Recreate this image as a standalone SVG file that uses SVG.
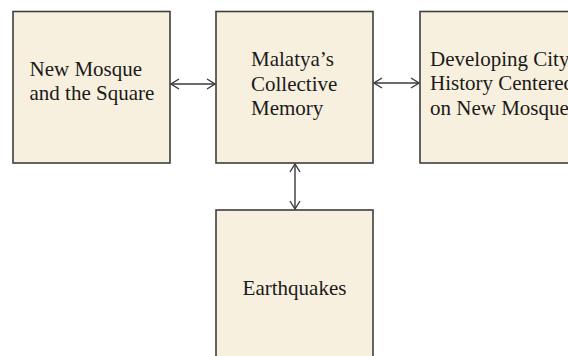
<svg xmlns="http://www.w3.org/2000/svg" width="568" height="356" viewBox="0 0 568 356">
<style>
.box{fill:#F8F0DE;stroke:#3f3f3f;stroke-width:1.6}
.t{font-family:"Liberation Serif","Times New Roman",serif;font-size:21px;fill:#1a1a1a}
.c{stroke:#3a3a3a;stroke-width:1.4;fill:none;marker-start:url(#ah);marker-end:url(#ah)}
</style>
<defs>
<marker id="ah" viewBox="0 0 10 12" refX="9" refY="6" markerWidth="10" markerHeight="12" markerUnits="userSpaceOnUse" orient="auto-start-reverse">
<path d="M1,1 L9,6 L1,11" fill="none" stroke="#3a3a3a" stroke-width="1.4"/>
</marker>
</defs>
<rect width="568" height="356" fill="#ffffff"/>
<g id="connectors">
<line class="c" x1="171" y1="84" x2="215" y2="84"/>
<line class="c" x1="374" y1="83" x2="419" y2="83"/>
<line class="c" x1="295" y1="164" x2="295" y2="209"/>
</g>
<g id="node-mosque">
<rect class="box" x="13" y="11.5" width="157" height="151.5"/>
<text class="t" x="29.5" y="76">New Mosque</text>
<text class="t" x="29.5" y="100">and the Square</text>
</g>
<g id="node-memory">
<rect class="box" x="216" y="11.5" width="157" height="151.5"/>
<text class="t" x="251" y="66">Malatya’s</text>
<text class="t" x="251" y="90.5">Collective</text>
<text class="t" x="251" y="115">Memory</text>
</g>
<g id="node-history">
<rect class="box" x="420" y="11.5" width="157" height="151.5"/>
<text class="t" x="430" y="65.5">Developing City</text>
<text class="t" x="430" y="90">History Centered</text>
<text class="t" x="430" y="114.5">on New Mosque</text>
</g>
<g id="node-earthquakes">
<rect class="box" x="216" y="210" width="157" height="152"/>
<text class="t" x="294.5" y="295" text-anchor="middle">Earthquakes</text>
</g>
</svg>
